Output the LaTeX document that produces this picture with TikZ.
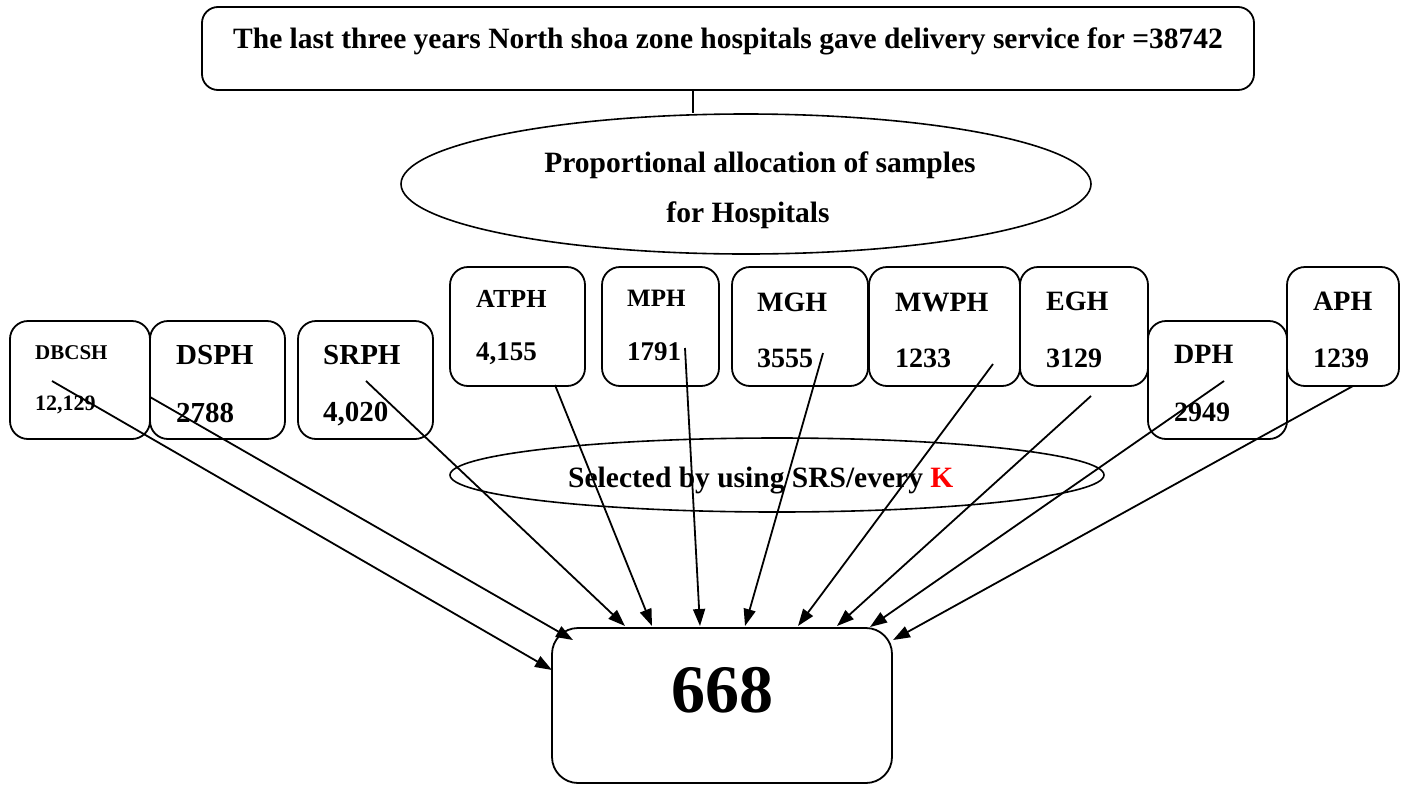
\documentclass[tikz,border=0pt]{standalone}
\usepackage{fontspec}
\setmainfont{Liberation Serif}
\usetikzlibrary{arrows.meta,shapes.geometric}
\begin{document}
\begin{tikzpicture}[x=1pt,y=-1pt,
  hbox/.style={draw,line width=1.8pt,rounded corners=18pt,inner sep=0pt},
  lab/.style={anchor=base west,inner sep=0pt,font=\bfseries\fontsize{#1}{#1}\selectfont},
  lab/.default=28,
  ctxt/.style={anchor=base,inner sep=0pt,font=\bfseries\fontsize{#1}{#1}\selectfont},
  ctxt/.default=29.5,
  arr/.style={line width=1.8pt,-{Triangle[length=17pt,width=12pt]}},
  oval/.style={draw,ellipse,line width=1.6pt,inner sep=0pt}
]
\useasboundingbox (0,0) rectangle (1406,785);
% top box and first ellipse
\node[hbox,rounded corners=16pt,minimum width=1052pt,minimum height=83pt] (top) at (728,48.5) {};
\node[ctxt] (toptxt) at (728,48) {The last three years North shoa zone hospitals gave delivery service for =38742};
\node[oval,minimum width=690pt,minimum height=140pt] (prop) at (746,184) {};
\node[ctxt] (prop1) at (760,172) {Proportional allocation of samples};
\node[ctxt] (prop2) at (748,222) {for Hospitals};
\coordinate (lx) at (693,0);
\draw[line width=1.6pt] (top.south -| lx) -- (lx |- prop.north);
% second ellipse
\node[oval,minimum width=654pt,minimum height=74pt] (srs) at (777,475) {};
\node[lab=29.5] (srstxt) at (568,487) {Selected by using SRS/every \textcolor{red}{K}};
% hospital boxes
\node[hbox,minimum width=140pt,minimum height=118pt] (dbcsh) at (80,380) {};
\node[hbox,minimum width=135pt,minimum height=118pt] (dsph) at (217.5,380) {};
\node[hbox,minimum width=135pt,minimum height=118pt] (srph) at (365.5,380) {};
\node[hbox,minimum width=135pt,minimum height=119pt] (atph) at (517.5,326.5) {};
\node[hbox,minimum width=117pt,minimum height=119pt] (mph) at (660.5,326.5) {};
\node[hbox,minimum width=136pt,minimum height=119pt] (mgh) at (800,326.5) {};
\node[hbox,minimum width=151pt,minimum height=119pt] (mwph) at (944.5,326.5) {};
\node[hbox,minimum width=128pt,minimum height=119pt] (egh) at (1084,326.5) {};
\node[hbox,minimum width=139pt,minimum height=118pt] (dph) at (1217.5,380) {};
\node[hbox,minimum width=112pt,minimum height=119pt] (aph) at (1343,326.5) {};
% labels
\node[lab=21] (l1a) at (35,359) {DBCSH};
\node[lab=22] (l1b) at (35,410) {12,129};
\node[lab=29] (l2a) at (176,364) {DSPH};
\node[lab=29] (l2b) at (176,422) {2788};
\node[lab=29] (l3a) at (323,364) {SRPH};
\node[lab=29] (l3b) at (323,421) {4,020};
\node[lab=26] (l4a) at (476,307) {ATPH};
\node[lab=27] (l4b) at (476,360) {4,155};
\node[lab=25] (l5a) at (627,306) {MPH};
\node[lab=27] (l5b) at (627,360) {1791};
\node[lab=28] (l6a) at (757,311) {MGH};
\node[lab=28] (l6b) at (757,367) {3555};
\node[lab=28] (l7a) at (895,311) {MWPH};
\node[lab=28] (l7b) at (895,367) {1233};
\node[lab=28] (l8a) at (1046,310) {EGH};
\node[lab=28] (l8b) at (1046,367) {3129};
\node[lab=28] (l9a) at (1174,363) {DPH};
\node[lab=28] (l9b) at (1174,421) {2949};
\node[lab=28] (l10a) at (1313,310) {APH};
\node[lab=28] (l10b) at (1313,367) {1239};
% result box
\node[hbox,rounded corners=26pt,minimum width=340pt,minimum height=155pt] (res) at (722,705.5) {};
\node[ctxt=68] (restxt) at (722,712) {668};
% arrow start points
\coordinate (s1) at (52,381);
\coordinate (s2) at (150,397);
\coordinate (s3) at (366,381);
\coordinate (s4) at (555,385);
\coordinate (s5) at (685,348);
\coordinate (s6) at (823,353);
\coordinate (s7) at (993,364);
\coordinate (s8) at (1091,396);
\coordinate (s9) at (1224,381);
\coordinate (s10) at (1353,386);
% arrow tips
\coordinate (t1) at (552,670);
\coordinate (t2) at (573,640);
\coordinate (t3) at (625,626);
\coordinate (t4) at (652,626);
\coordinate (t5) at (700,626);
\coordinate (t6) at (745,626);
\coordinate (t7) at (798,626);
\coordinate (t8) at (837,626);
\coordinate (t9) at (870,627);
\coordinate (t10) at (893,640);
\foreach \i in {1,...,10} {\draw[arr] (s\i) -- (t\i);}
\end{tikzpicture}
\end{document}
